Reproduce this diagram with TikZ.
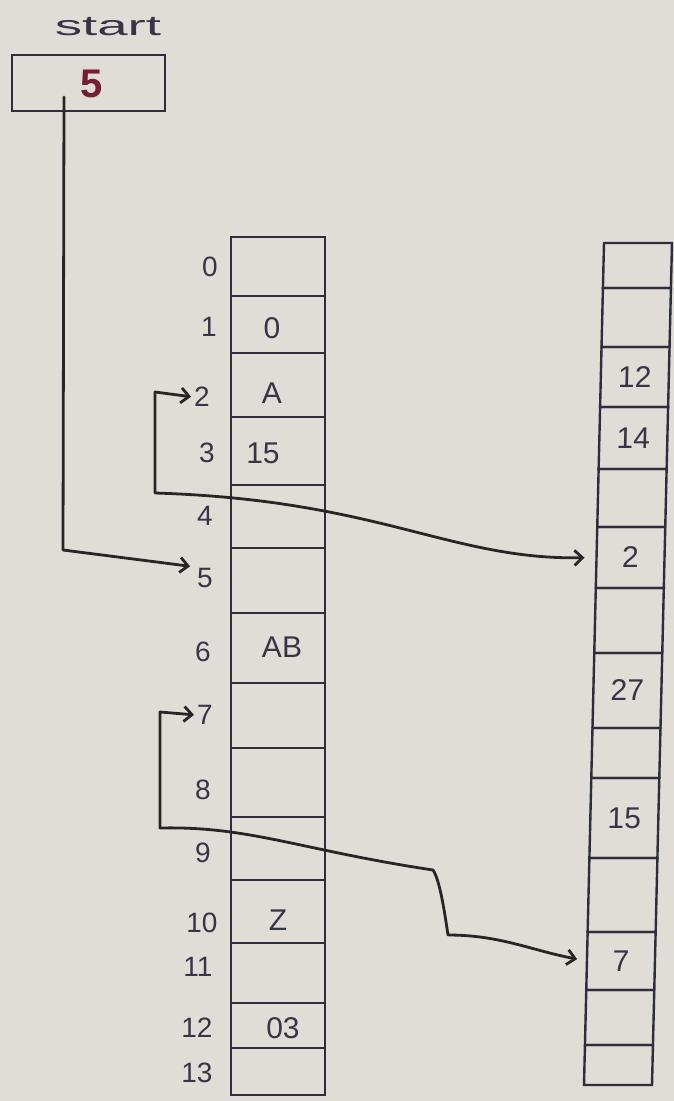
\documentclass[tikz,border=0pt]{standalone}
\usepackage{fontspec}
\setmainfont{Liberation Sans}
\usetikzlibrary{arrows.meta}
\definecolor{paper}{RGB}{224,221,214}
\definecolor{ink}{RGB}{45,45,62}
\definecolor{pen}{RGB}{55,52,72}
\definecolor{redink}{RGB}{115,30,50}
\begin{document}
\begin{tikzpicture}[x=1pt,y=-1pt,
  >={Straight Barb[length=8pt,width=15pt]},
  cell/.style={draw=ink, line width=2.4pt, minimum width=94pt, inner sep=0pt, outer sep=0pt},
  rcell/.style={draw=ink, line width=2.4pt, minimum width=68pt, inner sep=0pt, outer sep=0pt,
    text=pen, font=\fontsize{30}{32}\selectfont},
  idx/.style={text=pen, font=\fontsize{28}{30}\selectfont, inner sep=1pt},
  val/.style={text=pen, font=\fontsize{30}{32}\selectfont, inner sep=1pt},
  link/.style={draw=black!85, line width=2.8pt, line join=round, line cap=round}
]
\fill[paper] (0,0) rectangle (674,1101);
\useasboundingbox (0,0) rectangle (674,1101);

% start box
\node[text=pen, font=\fontsize{28}{30}\selectfont, xscale=1.95] (st) at (108,27) {start};
\node[draw=ink, line width=2.6pt, minimum width=153pt, minimum height=56pt, inner sep=0pt] (sb) at (88.5,83) {};
\node[text=redink, font=\bfseries\fontsize{40}{40}\selectfont] (sv) at (92,84) {5};
\coordinate (p0) at (64,97);

% left array
\foreach \i/\a/\b in {0/237/296,1/296/353,2/353/417,3/417/485,4/485/548,5/548/613,6/613/683,
  7/683/748,8/748/817,9/817/880,10/880/943,11/943/1003,12/1003/1048,13/1048/1095}
  \node[cell, minimum height={(\b-\a)*1pt}] (L\i) at (278,{(\a+\b)/2}) {};

% index labels
\foreach \n/\x/\y in {0/210/267,1/209/327,2/202/397,3/207/453,4/205/516,5/205/578,6/203/652,
  7/205/715,8/203/790,9/203/853,10/202/923,11/198/967,12/197/1028,13/197/1073}
  \node[idx] (i\n) at (\x,\y) {\n};

% left values
\node[val] (v1) at (272,328) {0};
\node[val] (v2) at (272,393) {A};
\node[val] (v3) at (263,453) {15};
\node[val] (v6) at (282,647) {AB};
\node[val] (v10) at (278,920) {Z};
\node[val] (v12) at (283,1028) {03};

% right array (slightly slanted)
\begin{scope}[shift={(604,243)}, xslant=0.02375, transform shape]
\foreach \i/\a/\b/\t in {0/243/288/,1/288/347/,2/347/407/12,3/407/469/14,4/469/527/,5/527/588/2,
  6/588/653/,7/653/728/27,8/728/778/,9/778/858/15,10/858/932/,11/932/990/7,12/990/1045/,13/1045/1085/}
  \node[rcell, minimum height={(\b-\a)*1pt}] (R\i) at (34,{(\a+\b)/2-243}) {\t};
\end{scope}

% connectors
\draw[link,->, shorten >=6pt] (p0) -- (63,550) -- (i5.north west);
\draw[link,<->, shorten >=12pt, shorten <=2pt] (i2.west) -- (155,392) -- (155,493)
  .. controls (380,500) and (450,560) .. (R5.west);
\draw[link,<->, shorten >=10pt, shorten <=2pt] (i7.west) -- (160,712) -- (160,828)
  .. controls (250,826) and (300,850) .. (433,870)
  .. controls (440,880) and (445,915) .. (448,935)
  .. controls (500,935) and (530,950) .. (R11.west);
\end{tikzpicture}
\end{document}
